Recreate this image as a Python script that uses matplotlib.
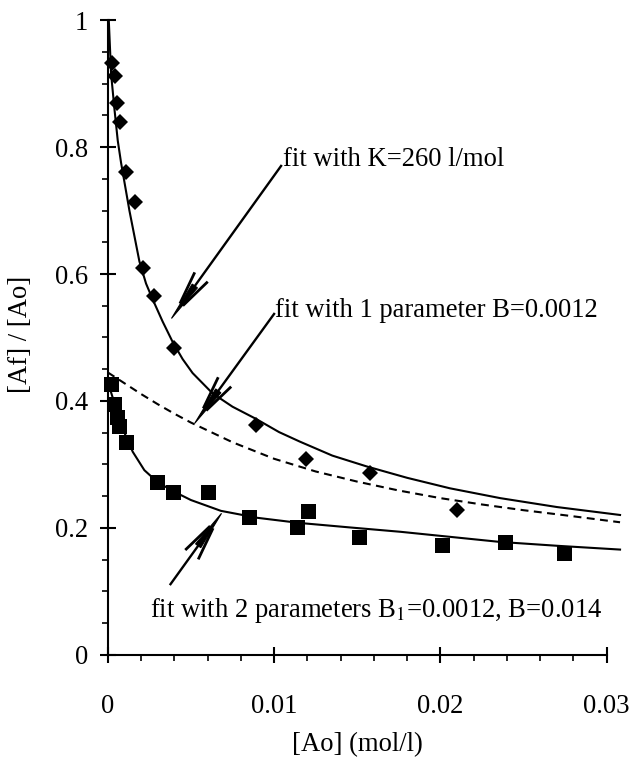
import matplotlib
matplotlib.use("Agg")
import matplotlib.pyplot as plt
import numpy as np
from matplotlib.ticker import FixedLocator, MultipleLocator
from matplotlib.patches import Polygon
from matplotlib.lines import Line2D
from matplotlib.transforms import IdentityTransform

plt.rcParams['font.family'] = ['Liberation Serif', 'DejaVu Serif']
plt.rcParams['mathtext.fontset'] = 'stix'

# measured points: free fraction vs. initial concentration
ao_diamond = [0.00028, 0.00042, 0.00056, 0.00072, 0.00108, 0.00162, 0.00209,
              0.00277, 0.00397, 0.0089, 0.0119, 0.01576, 0.0210]
af_diamond = [0.933, 0.912, 0.869, 0.839, 0.760, 0.714, 0.609,
              0.565, 0.483, 0.362, 0.308, 0.287, 0.229]

ao_square = [0.00018, 0.0004, 0.00055, 0.0007, 0.0011, 0.00297, 0.00393,
             0.00603, 0.0085, 0.01135, 0.01205, 0.01511, 0.0201, 0.0239, 0.02744]
af_square = [0.427, 0.395, 0.375, 0.360, 0.335, 0.273, 0.257,
             0.257, 0.218, 0.202, 0.227, 0.186, 0.173, 0.178, 0.160]

# fitted curves
ao_fit_k = [0.00006, 0.0002, 0.0004, 0.0006, 0.0008, 0.001, 0.0013, 0.0016,
            0.0019, 0.0023, 0.0027, 0.0033, 0.0039, 0.0045, 0.0051, 0.0063,
            0.0075, 0.0089, 0.0103, 0.01155, 0.0135, 0.01556, 0.018, 0.02057,
            0.0236, 0.027, 0.0308]
af_fit_k = [1.0, 0.915, 0.86, 0.81, 0.775, 0.745, 0.70, 0.66,
            0.62, 0.585, 0.560, 0.525, 0.493, 0.466, 0.444, 0.412,
            0.391, 0.372, 0.351, 0.336, 0.314, 0.297, 0.279, 0.2625,
            0.247, 0.233, 0.2205]

ao_fit_1 = [0.0, 0.001, 0.002, 0.003, 0.004, 0.005, 0.0075, 0.01, 0.0125,
            0.015, 0.0175, 0.02, 0.0225, 0.025, 0.0275, 0.0308]
af_fit_1 = [0.445, 0.428, 0.411, 0.395, 0.380, 0.366, 0.335, 0.309, 0.289,
            0.273, 0.259, 0.247, 0.237, 0.228, 0.220, 0.209]

ao_fit_2 = [0.0, 0.0003, 0.0006, 0.001, 0.0015, 0.0022, 0.003, 0.004, 0.005,
            0.0068, 0.009, 0.0115, 0.0145, 0.0176, 0.0206, 0.0236, 0.027, 0.0308]
af_fit_2 = [0.43, 0.405, 0.38, 0.35, 0.32, 0.291, 0.272, 0.257, 0.244,
            0.227, 0.216, 0.208, 0.201, 0.194, 0.186, 0.178, 0.172, 0.166]

x_ticks = [0, 0.01, 0.02, 0.03]
x_ticklabels = ['0', '0.01', '0.02', '0.03']
y_ticks = [0, 0.2, 0.4, 0.6, 0.8, 1.0]
y_ticklabels = ['0', '0.2', '0.4', '0.6', '0.8', '1']

FS = 19.2

fig = plt.figure(figsize=(6.34, 7.64), dpi=100)
ax = fig.add_axes([0.170, 0.1427, 0.787, 0.8311])

ax.plot(ao_fit_k, af_fit_k, color='black', lw=1.5, clip_on=False, zorder=2)
ax.plot(ao_fit_1, af_fit_1, color='black', lw=1.5, dashes=(3.8, 2.6),
        clip_on=False, zorder=2)
ax.plot(ao_fit_2, af_fit_2, color='black', lw=1.5, clip_on=False, zorder=2)

ax.plot(ao_diamond, af_diamond, 'D', color='black', ms=8.2, mew=0,
        clip_on=False, zorder=3)
ax.plot(ao_square, af_square, 's', color='black', ms=10.8, mew=0,
        clip_on=False, zorder=3)

ax.set_xlim(0, 0.03)
ax.set_ylim(0, 1)

ax.xaxis.set_major_locator(FixedLocator(x_ticks))
ax.set_xticklabels(x_ticklabels)
ax.xaxis.set_minor_locator(MultipleLocator(0.002))
ax.yaxis.set_major_locator(FixedLocator(y_ticks))
ax.set_yticklabels(y_ticklabels)
ax.yaxis.set_minor_locator(MultipleLocator(0.05))

for side in ['top', 'right']:
    ax.spines[side].set_visible(False)
for side in ['left', 'bottom']:
    ax.spines[side].set_linewidth(1.5)

ax.tick_params(which='major', direction='inout', length=12, width=1.5,
               labelsize=FS)
ax.tick_params(which='minor', direction='out', length=4, width=1.2)
ax.tick_params(axis='y', which='major', pad=8)
ax.tick_params(axis='x', which='major', pad=22)

ax.set_xlabel('[Ao] (mol/l)', fontsize=FS)
ax.set_ylabel('[Af] / [Ao]', fontsize=FS)
ax.xaxis.set_label_coords(0.5, -0.122)
ax.yaxis.set_label_coords(-0.150, 0.505)


def feather_arrow(tip, tail):
    # shaft, narrow solid wedge at the tip and two open barbs (pixel units)
    p_tip = ax.transData.transform(tip)
    p_tail = ax.transData.transform(tail)
    d = (p_tail - p_tip) / np.hypot(*(p_tail - p_tip))
    n = np.array([-d[1], d[0]])
    pix = IdentityTransform()

    ax.add_line(Line2D([p_tip[0] + 20 * d[0], p_tail[0]],
                       [p_tip[1] + 20 * d[1], p_tail[1]],
                       transform=pix, color='black', lw=1.7,
                       solid_capstyle='butt', clip_on=False))
    wedge = [p_tip, p_tip + 40 * d + 3.2 * n, p_tip + 40 * d - 3.2 * n]
    ax.add_patch(Polygon(wedge, closed=True, transform=pix, fc='black',
                         ec='black', lw=0.8, clip_on=False))
    for s in (1, -1):
        a = p_tip + 17 * d + s * 1.8 * n
        b = p_tip + 51 * d + s * 8.0 * n
        ax.add_line(Line2D([a[0], b[0]], [a[1], b[1]], transform=pix,
                           color='black', lw=2.0, solid_capstyle='butt',
                           clip_on=False))


ax.text(0.01052, 0.770, 'fit with K=260 l/mol', fontsize=FS, va='baseline')
feather_arrow((0.00383, 0.530), (0.01046, 0.7717))

ax.text(0.01004, 0.532, 'fit with 1 parameter B=0.0012', fontsize=FS,
        va='baseline')
feather_arrow((0.00523, 0.365), (0.01004, 0.5386))

ax.text(0.00253, 0.060, 'fit with 2 parameters B$_{1}$=0.0012, B=0.014',
        fontsize=FS, va='baseline')
feather_arrow((0.00684, 0.2231), (0.00373, 0.110))

fig.savefig('out.png', dpi=100)
